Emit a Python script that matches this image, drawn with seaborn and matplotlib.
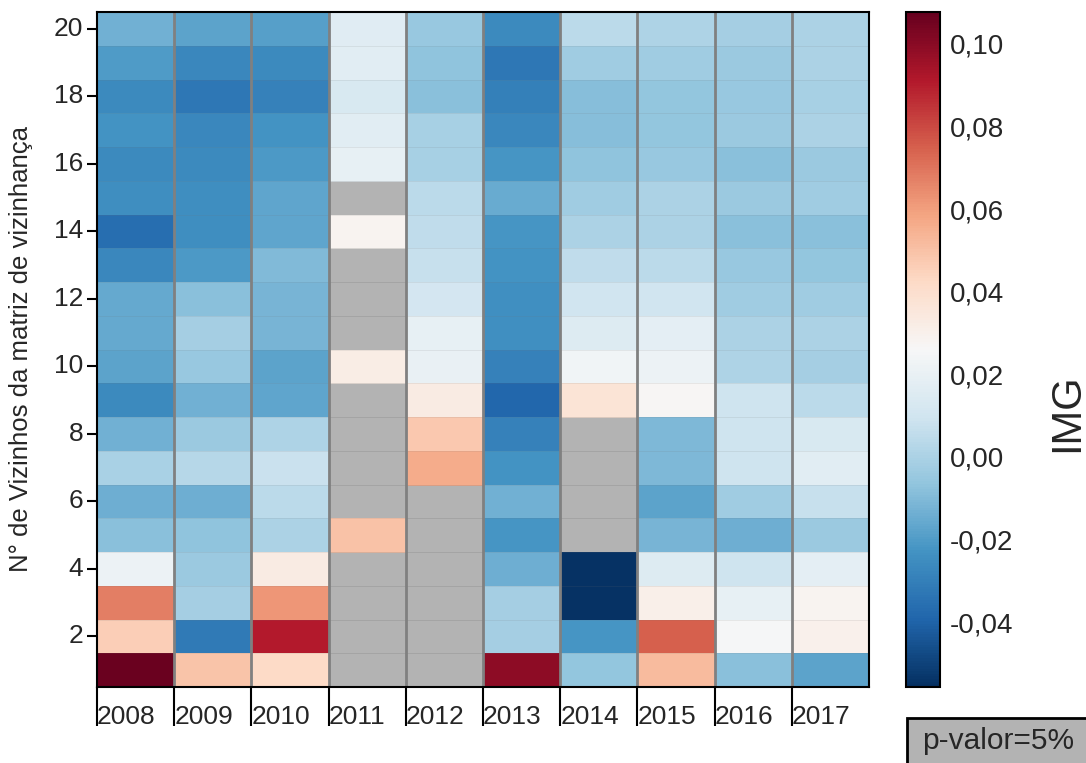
import numpy as np
import pandas as pd
import seaborn as sns
import matplotlib.pyplot as plt
from matplotlib.patches import Rectangle
from matplotlib.ticker import FuncFormatter

sns.set_style("white")
plt.rcParams['font.family'] = ['Liberation Sans', 'DejaVu Sans']

nan = np.nan
anos = ['2008', '2009', '2010', '2011', '2012', '2013', '2014', '2015', '2016', '2017']
vizinhos = list(range(1, 21))

# IMG por ano, vizinhos 1..20 (nan = nao significativo a 5%)
img_2008 = [0.107, 0.046, 0.068, 0.021, -0.008, -0.014, -0.0003, -0.013, -0.026, -0.018,
            -0.016, -0.016, -0.027, -0.036, -0.025, -0.026, -0.023, -0.026, -0.020, -0.013]
img_2009 = [0.049, -0.032, -0.002, -0.004, -0.007, -0.014, 0.003, -0.004, -0.013, -0.005,
            -0.002, -0.008, -0.021, -0.025, -0.025, -0.026, -0.027, -0.033, -0.027, -0.018]
img_2010 = [0.042, 0.091, 0.062, 0.033, 0.000, 0.004, 0.008, 0.001, -0.017, -0.018,
            -0.012, -0.012, -0.010, -0.017, -0.017, -0.021, -0.023, -0.029, -0.026, -0.019]
img_2011 = [nan, nan, nan, nan, 0.050, nan, nan, nan, nan, 0.032,
            nan, nan, nan, 0.028, nan, 0.019, 0.017, 0.013, 0.017, 0.016]
img_2012 = [nan, nan, nan, nan, nan, nan, 0.056, 0.048, 0.033, 0.020,
            0.019, 0.011, 0.007, 0.005, 0.004, -0.001, -0.001, -0.008, -0.007, -0.005]
img_2013 = [0.099, -0.002, -0.002, -0.014, -0.022, -0.013, -0.023, -0.029, -0.039, -0.029,
            -0.024, -0.024, -0.023, -0.022, -0.015, -0.022, -0.027, -0.030, -0.033, -0.026]
img_2014 = [-0.006, -0.022, -0.055, -0.055, nan, nan, nan, nan, 0.037, 0.023,
            0.015, 0.010, 0.005, 0.000, -0.003, -0.007, -0.009, -0.009, -0.003, 0.004]
img_2015 = [0.052, 0.075, 0.031, 0.015, -0.012, -0.018, -0.011, -0.011, 0.027, 0.021,
            0.018, 0.010, 0.004, 0.000, 0.000, -0.005, -0.006, -0.006, -0.003, 0.001]
img_2016 = [-0.008, 0.025, 0.019, 0.009, -0.014, -0.003, 0.009, 0.009, 0.009, 0.001,
            0.000, -0.003, -0.005, -0.008, -0.004, -0.008, -0.004, -0.005, -0.004, -0.002]
img_2017 = [-0.018, 0.030, 0.028, 0.018, -0.004, 0.007, 0.017, 0.013, 0.004, -0.002,
            0.000, -0.003, -0.006, -0.008, -0.003, -0.004, 0.000, -0.001, 0.000, 0.000]

cols = [img_2008, img_2009, img_2010, img_2011, img_2012,
        img_2013, img_2014, img_2015, img_2016, img_2017]
df = pd.DataFrame(np.array(cols).T, index=vizinhos, columns=anos)
df = df.iloc[::-1]  # 20 no topo

W, H = 1086, 763
fig = plt.figure(figsize=(W / 100, H / 100), dpi=100)
ax = fig.add_axes([97 / W, 76 / H, 772 / W, 675 / H])
cax = fig.add_axes([906 / W, 76 / H, 34 / W, 675 / H])

ax.set_facecolor('#b3b3b3')
sns.heatmap(df, ax=ax, cbar_ax=cax, cmap='RdBu_r', vmin=-0.0557, vmax=0.1077,
            linewidths=0.6, linecolor=(0.45, 0.45, 0.45, 0.12))

for x in range(1, len(anos)):
    ax.axvline(x, color='#808080', lw=2)

ax.set_xticks(np.arange(len(anos)))
ax.set_xticklabels(anos, ha='left', rotation=0, fontsize=19)
yt = [20 - k + 0.5 for k in range(2, 21, 2)]
ax.set_yticks(yt)
ax.set_yticklabels([str(k) for k in range(2, 21, 2)], rotation=0, fontsize=19)
ax.tick_params(axis='y', length=7, width=1.5, color='black', pad=3, left=True)
ax.tick_params(axis='x', length=28, width=1.5, color='black', pad=-15, bottom=True)
for lab in ax.get_xticklabels():
    lab.set_x(lab.get_position()[0])
ax.set_ylabel('N° de Vizinhos da matriz de vizinhança', fontsize=18.5)
ax.yaxis.set_label_coords(-0.083, 0.5)
ax.set_xlabel('')
for s in ax.spines.values():
    s.set_visible(True)
    s.set_color('black')
    s.set_linewidth(1.5)

cb = ax.collections[0].colorbar
cb.set_ticks(np.arange(-0.04, 0.101, 0.02))
cb.ax.yaxis.set_major_formatter(FuncFormatter(lambda v, p: f'{v:.2f}'.replace('.', ',')))
cb.ax.tick_params(labelsize=20, length=0, pad=7)
cb.outline.set_visible(True)
cb.outline.set_edgecolor('black')
cb.outline.set_linewidth(1.5)

fig.text(1067 / W, 350 / H, 'IMG', rotation=90, fontsize=30, ha='center', va='center')

fig.patches.append(Rectangle((907 / W, -0.01), 0.2, (763 - 718) / H + 0.01,
                             transform=fig.transFigure, facecolor='#b3b3b3',
                             edgecolor='black', lw=2, zorder=1))
fig.text(998 / W, (763 - 741) / H, 'p-valor=5%', fontsize=21.5, ha='center', va='center')

fig.savefig('out.png', dpi=100)
